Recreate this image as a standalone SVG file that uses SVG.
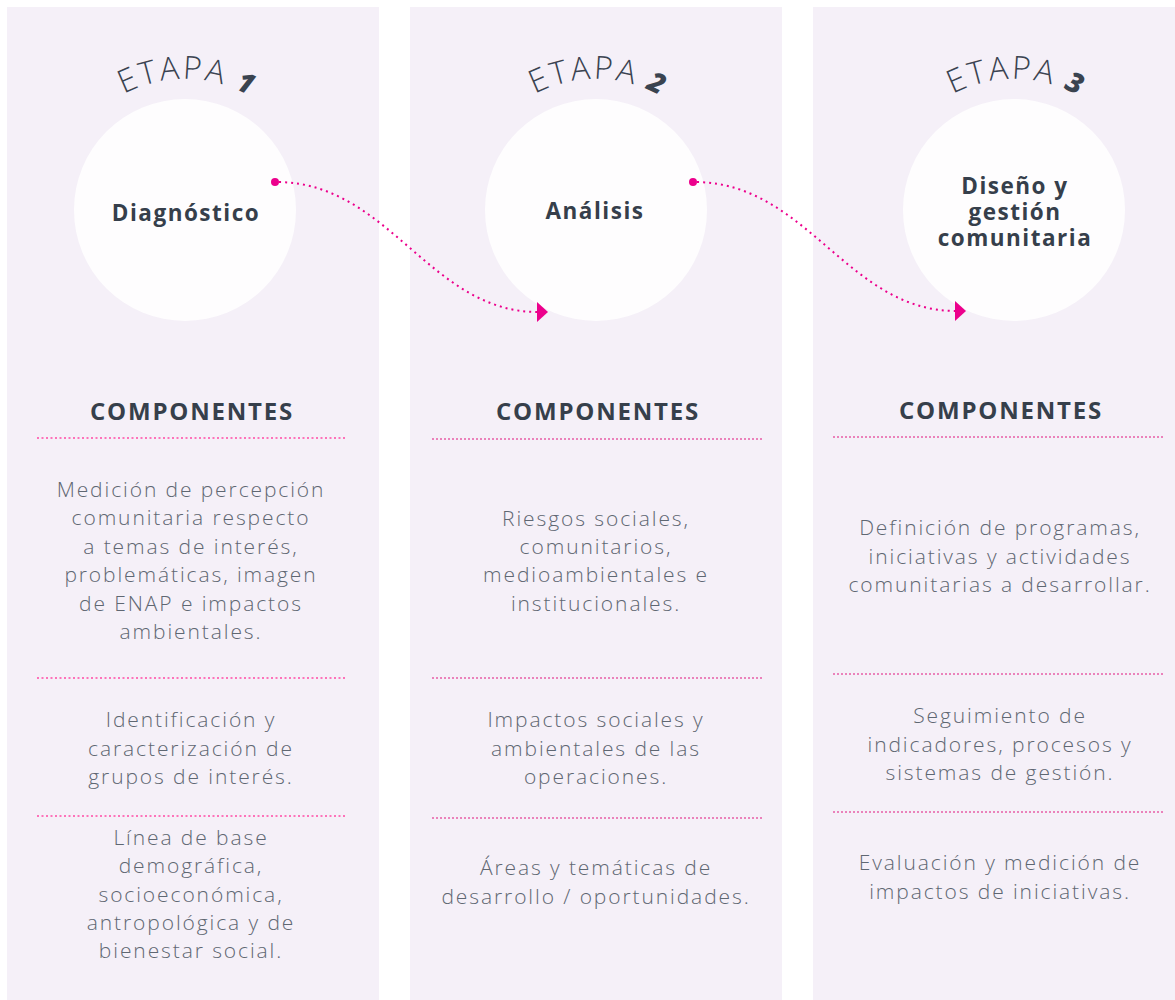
<svg xmlns="http://www.w3.org/2000/svg" width="1175" height="1000" viewBox="0 0 1175 1000">
<defs>
<style>
.panel{fill:#f5f0f8}
.circ{fill:#fefdfe}
.etapa{font-family:"Open Sans","Liberation Sans",sans-serif;font-weight:300;font-size:32px;fill:#3a4350;letter-spacing:2.5px}
.num{font-family:"Open Sans","Liberation Sans",sans-serif;font-weight:800;font-style:italic;font-size:28px;fill:#3a4350;letter-spacing:0}
.title{font-family:"Open Sans","Liberation Sans",sans-serif;font-weight:700;font-size:22.5px;fill:#363f4b;text-anchor:middle;letter-spacing:1.5px}
.comp{font-family:"Open Sans","Liberation Sans",sans-serif;font-weight:700;font-size:24px;fill:#363f4b;text-anchor:middle;letter-spacing:1.8px}
.body{font-family:"Open Sans","Liberation Sans",sans-serif;font-weight:300;font-size:21px;fill:#5f6772;text-anchor:middle;letter-spacing:1.9px}
.div1{stroke:#ff4aa5;stroke-width:1.5;stroke-dasharray:2 2.5;fill:none}
.div2{stroke:#e0147f;stroke-width:1;stroke-dasharray:2 2;fill:none}
.conn{stroke:#ec008c;stroke-width:2;stroke-dasharray:2 4;fill:none}
</style>
<marker id="arr" markerWidth="12" markerHeight="20" refX="1" refY="10" orient="auto" markerUnits="userSpaceOnUse">
<path d="M0,0 L11,10 L0,20 Z" fill="#ec008c"/>
</marker>
<path id="arc1" d="M54,210 A131,131 0 0 1 316,210"/>
<path id="arc2" d="M465,210 A131,131 0 0 1 727,210"/>
<path id="arc3" d="M883,210 A131,131 0 0 1 1145,210"/>
</defs>
<rect width="1175" height="1000" fill="#ffffff"/>
<g id="panel1">
<rect class="panel" x="7" y="7" width="372" height="993"/>
<circle class="circ" cx="185" cy="210" r="111"/>
<text class="etapa"><textPath href="#arc1" startOffset="142">ETAPA<tspan class="num" dx="10">1</tspan></textPath></text>
<text class="title" x="186" y="221">Diagnóstico</text>
<text class="comp" x="192" y="420">COMPONENTES</text>
<line class="div1" x1="37" y1="438" x2="345" y2="438"/>
<text class="body" x="191" y="497">Medición de percepción</text>
<text class="body" x="191" y="525">comunitaria respecto</text>
<text class="body" x="191" y="554">a temas de interés,</text>
<text class="body" x="191" y="582">problemáticas, imagen</text>
<text class="body" x="191" y="611">de ENAP e impactos</text>
<text class="body" x="191" y="639">ambientales.</text>
<line class="div1" x1="37" y1="678" x2="345" y2="678"/>
<text class="body" x="191" y="727">Identificación y</text>
<text class="body" x="191" y="756">caracterización de</text>
<text class="body" x="191" y="784">grupos de interés.</text>
<line class="div1" x1="37" y1="816" x2="345" y2="816"/>
<text class="body" x="191" y="845">Línea de base</text>
<text class="body" x="191" y="873">demográfica,</text>
<text class="body" x="191" y="902">socioeconómica,</text>
<text class="body" x="191" y="930">antropológica y de</text>
<text class="body" x="191" y="958">bienestar social.</text>
</g>
<g id="panel2">
<rect class="panel" x="410" y="7" width="372" height="993"/>
<circle class="circ" cx="596" cy="210" r="111"/>
<text class="etapa"><textPath href="#arc2" startOffset="142">ETAPA<tspan class="num" dx="10">2</tspan></textPath></text>
<text class="title" x="595" y="219">Análisis</text>
<text class="comp" x="598" y="420">COMPONENTES</text>
<line class="div2" x1="432" y1="439" x2="762" y2="439"/>
<text class="body" x="596" y="526">Riesgos sociales,</text>
<text class="body" x="596" y="554">comunitarios,</text>
<text class="body" x="596" y="582">medioambientales e</text>
<text class="body" x="596" y="611">institucionales.</text>
<line class="div2" x1="432" y1="678" x2="762" y2="678"/>
<text class="body" x="596" y="727">Impactos sociales y</text>
<text class="body" x="596" y="756">ambientales de las</text>
<text class="body" x="596" y="784">operaciones.</text>
<line class="div2" x1="432" y1="818" x2="762" y2="818"/>
<text class="body" x="596" y="875">Áreas y temáticas de</text>
<text class="body" x="596" y="904">desarrollo / oportunidades.</text>
</g>
<g id="panel3">
<rect class="panel" x="813" y="7" width="362" height="993"/>
<circle class="circ" cx="1014" cy="210" r="111"/>
<text class="etapa"><textPath href="#arc3" startOffset="142">ETAPA<tspan class="num" dx="10">3</tspan></textPath></text>
<text class="title" x="1015" y="194">Diseño y</text>
<text class="title" x="1015" y="220">gestión</text>
<text class="title" x="1015" y="246">comunitaria</text>
<text class="comp" x="1001" y="419">COMPONENTES</text>
<line class="div2" x1="833" y1="437" x2="1165" y2="437"/>
<text class="body" x="1000" y="535">Definición de programas,</text>
<text class="body" x="1000" y="564">iniciativas y actividades</text>
<text class="body" x="1000" y="592">comunitarias a desarrollar.</text>
<line class="div2" x1="833" y1="674" x2="1165" y2="674"/>
<text class="body" x="1000" y="723">Seguimiento de</text>
<text class="body" x="1000" y="752">indicadores, procesos y</text>
<text class="body" x="1000" y="780">sistemas de gestión.</text>
<line class="div2" x1="833" y1="812" x2="1165" y2="812"/>
<text class="body" x="1000" y="870">Evaluación y medición de</text>
<text class="body" x="1000" y="899">impactos de iniciativas.</text>
</g>
<g id="connectors">
<circle cx="275" cy="182" r="4" fill="#ec008c"/>
<path class="conn" d="M279,182 C390,184 430,312 538,312" marker-end="url(#arr)"/>
<circle cx="693" cy="182" r="4" fill="#ec008c"/>
<path class="conn" d="M697,182 C808,184 848,311 956,311" marker-end="url(#arr)"/>
</g>
</svg>
